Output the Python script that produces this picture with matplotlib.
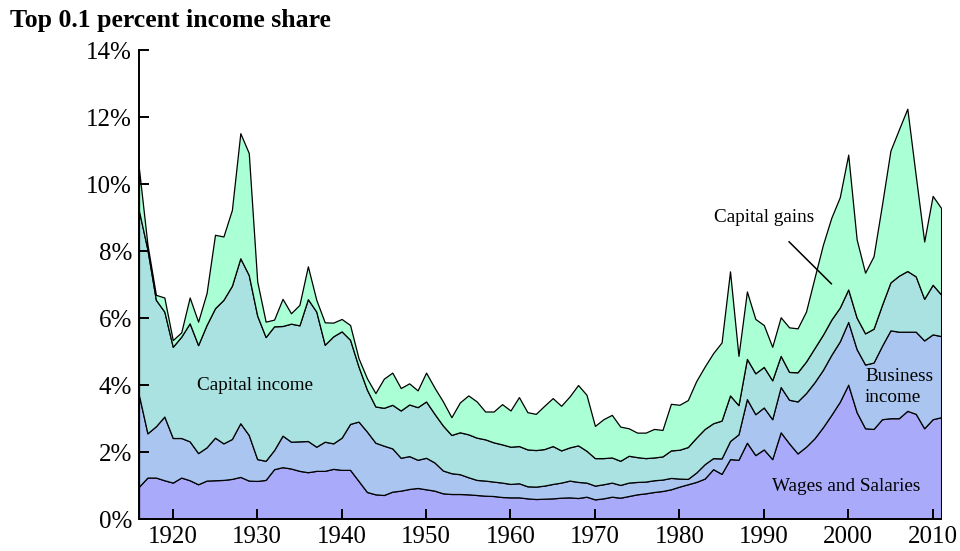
import matplotlib
matplotlib.use("Agg")
import matplotlib.pyplot as plt
import numpy as np

plt.rcParams['font.family'] = ['Liberation Serif', 'DejaVu Serif']

years = list(range(1916, 2012))

# cumulative levels (percent of total income)
wages_top = [0.98, 1.25, 1.25, 1.17, 1.10, 1.25, 1.17, 1.05, 1.16, 1.17,
             1.18, 1.21, 1.27, 1.16, 1.15, 1.18, 1.50, 1.56, 1.52, 1.45,
             1.41, 1.45, 1.45, 1.51, 1.48, 1.48, 1.15, 0.82, 0.75, 0.73,
             0.83, 0.86, 0.91, 0.94, 0.90, 0.86, 0.78, 0.76, 0.76, 0.75,
             0.73, 0.71, 0.70, 0.67, 0.66, 0.66, 0.63, 0.61, 0.62, 0.63,
             0.65, 0.66, 0.64, 0.68, 0.60, 0.63, 0.68, 0.65, 0.70, 0.75,
             0.78, 0.82, 0.85, 0.90, 0.98, 1.05, 1.12, 1.22, 1.50, 1.36,
             1.80, 1.78, 2.29, 1.92, 2.09, 1.80, 2.60, 2.27, 1.97, 2.17,
             2.42, 2.75, 3.12, 3.51, 4.02, 3.20, 2.72, 2.70, 2.99, 3.02,
             3.02, 3.24, 3.15, 2.72, 2.99, 3.05]
business_top = [3.70, 2.57, 2.78, 3.07, 2.43, 2.43, 2.33, 1.98, 2.15, 2.44,
                2.27, 2.40, 2.87, 2.52, 1.80, 1.75, 2.07, 2.50, 2.32, 2.33,
                2.34, 2.17, 2.32, 2.27, 2.44, 2.85, 2.92, 2.62, 2.29, 2.20,
                2.12, 1.84, 1.89, 1.78, 1.84, 1.70, 1.46, 1.38, 1.35, 1.26,
                1.18, 1.16, 1.13, 1.10, 1.06, 1.08, 0.99, 0.98, 1.01, 1.06,
                1.10, 1.16, 1.12, 1.10, 1.01, 1.05, 1.10, 1.03, 1.10, 1.12,
                1.13, 1.17, 1.19, 1.24, 1.22, 1.21, 1.40, 1.65, 1.83, 1.82,
                2.34, 2.54, 3.59, 3.14, 3.34, 2.99, 3.95, 3.57, 3.52, 3.77,
                4.09, 4.46, 4.91, 5.31, 5.89, 5.08, 4.62, 4.68, 5.18, 5.64,
                5.60, 5.60, 5.60, 5.34, 5.52, 5.47]
capinc_top = [9.20, 8.05, 6.55, 6.20, 5.15, 5.45, 5.85, 5.20, 5.80, 6.30,
              6.55, 6.97, 7.79, 7.29, 6.08, 5.44, 5.76, 5.77, 5.84, 5.79,
              6.57, 6.20, 5.21, 5.46, 5.61, 5.36, 4.56, 3.87, 3.37, 3.33,
              3.42, 3.25, 3.43, 3.35, 3.52, 3.15, 2.80, 2.52, 2.60, 2.54,
              2.44, 2.39, 2.30, 2.24, 2.17, 2.19, 2.09, 2.07, 2.10, 2.19,
              2.06, 2.15, 2.21, 2.05, 1.83, 1.83, 1.85, 1.75, 1.90, 1.86,
              1.83, 1.85, 1.88, 2.06, 2.08, 2.16, 2.44, 2.70, 2.87, 2.95,
              3.70, 3.41, 4.79, 4.36, 4.55, 4.15, 4.88, 4.40, 4.39, 4.71,
              5.11, 5.51, 5.96, 6.32, 6.86, 6.02, 5.55, 5.69, 6.40, 7.07,
              7.27, 7.41, 7.25, 6.58, 7.00, 6.71]
total_top = [10.45, 8.20, 6.70, 6.62, 5.35, 5.58, 6.62, 5.90, 6.75, 8.49,
             8.44, 9.23, 11.52, 10.93, 7.10, 5.90, 5.96, 6.58, 6.15, 6.40,
             7.55, 6.55, 5.88, 5.87, 5.98, 5.80, 4.81, 4.21, 3.77, 4.20,
             4.38, 3.92, 4.06, 3.85, 4.38, 3.93, 3.52, 3.05, 3.49, 3.70,
             3.52, 3.22, 3.22, 3.44, 3.25, 3.65, 3.20, 3.15, 3.39, 3.62,
             3.39, 3.67, 4.01, 3.72, 2.79, 2.99, 3.12, 2.77, 2.72, 2.59,
             2.59, 2.70, 2.67, 3.45, 3.42, 3.56, 4.13, 4.56, 4.96, 5.28,
             7.40, 4.88, 6.80, 5.98, 5.80, 5.15, 6.03, 5.73, 5.70, 6.20,
             7.20, 8.19, 9.00, 9.61, 10.88, 8.35, 7.36, 7.85, 9.39, 11.00,
             11.63, 12.25, 10.25, 8.29, 9.65, 9.29]

wages = np.array(wages_top)
business = np.array(business_top) - np.array(wages_top)
capital_income = np.array(capinc_top) - np.array(business_top)
capital_gains = np.array(total_top) - np.array(capinc_top)

colors = ['#aaaafa', '#aac6f0', '#aae2e2', '#aaffd4']

fig = plt.figure(figsize=(9.6, 5.51), dpi=100)
ax = fig.add_axes([0.1448, 0.0572, 0.8355, 0.8520])

ax.stackplot(years, wages, business, capital_income, capital_gains,
             colors=colors, edgecolor='black', linewidth=0.9)

ax.set_xlim(1916, 2011)
ax.set_ylim(0, 14)
ax.set_yticks(range(0, 15, 2))
ax.set_yticklabels([f"{v}%" for v in range(0, 15, 2)])
ax.set_xticks(range(1920, 2011, 10))

for s in ['top', 'right']:
    ax.spines[s].set_visible(False)
for s in ['left', 'bottom']:
    ax.spines[s].set_linewidth(1.4)
ax.tick_params(direction='in', length=7, width=1.4, labelsize=18, pad=5)

fig.text(0.0104, 0.962, "Top 0.1 percent income share", fontsize=18.5,
         fontweight='bold', va='center', ha='left')

ax.text(1929.7, 4.01, "Capital income", fontsize=13.8, ha='center', va='center')
ax.text(1990.05, 9.0, "Capital gains", fontsize=13.8, ha='center', va='center')
ax.plot([1993.0, 1998.0], [8.28, 7.03], color='black', linewidth=1.1)
ax.text(2002.0, 3.96, "Business\nincome", fontsize=13.8, ha='left', va='center',
        linespacing=1.3)
ax.text(1999.8, 0.97, "Wages and Salaries", fontsize=13.8, ha='center', va='center')

fig.savefig("out.png", dpi=100)
